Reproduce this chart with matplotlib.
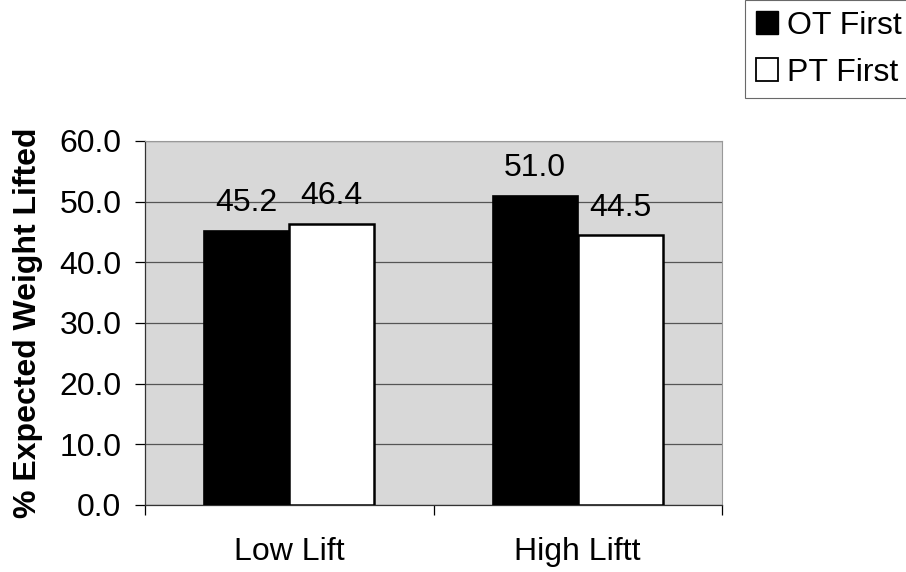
import matplotlib
matplotlib.use("Agg")
import matplotlib.pyplot as plt
import numpy as np
from matplotlib.patches import Patch

categories = ["Low Lift", "High Liftt"]
series_names = ["OT First", "PT First"]
ot_first = [45.2, 51.0]
pt_first = [46.4, 44.5]
yticks = [0, 10, 20, 30, 40, 50, 60]

plt.rcParams["font.family"] = ["Liberation Sans", "DejaVu Sans"]
FS = 23

fig = plt.figure(figsize=(9.06, 5.72), dpi=100)
ax = fig.add_axes([145 / 906, 67 / 572, 577 / 906, 364 / 572])
ax.set_facecolor("#d8d8d8")

x = np.arange(len(categories))
w = 0.295
b1 = ax.bar(x - w / 2, ot_first, w, color="black", edgecolor="black", linewidth=1.2, zorder=3)
b2 = ax.bar(x + w / 2, pt_first, w, color="white", edgecolor="black", linewidth=1.8, zorder=3)

for bars, vals in ((b1, ot_first), (b2, pt_first)):
    for r, v in zip(bars, vals):
        ax.annotate(f"{v:.1f}", (r.get_x() + r.get_width() / 2, v),
                    xytext=(0, 14), textcoords="offset points",
                    ha="center", va="baseline", fontsize=FS, zorder=4)

ax.set_ylim(0, 60)
ax.set_xlim(-0.5, 1.5)
ax.set_yticks(yticks)
ax.set_yticklabels([f"{t:.1f}" for t in yticks], fontsize=FS)
ax.yaxis.grid(True, color="#555555", linewidth=0.9, zorder=0)
ax.tick_params(axis="y", length=7, width=0.9, pad=10)

ax.set_xticks([-0.5, 0.5, 1.5])
ax.set_xticklabels([])
ax.set_xticks(x, minor=True)
ax.set_xticklabels(categories, minor=True, fontsize=FS)
ax.tick_params(axis="x", which="major", length=7, width=0.9, direction="out")
ax.tick_params(axis="x", which="minor", length=0, pad=23)

for s in ("top", "right"):
    ax.spines[s].set_color("#999999")
    ax.spines[s].set_linewidth(0.8)
for s in ("left", "bottom"):
    ax.spines[s].set_color("#333333")
    ax.spines[s].set_linewidth(0.9)

ax.set_ylabel("% Expected Weight Lifted", fontsize=FS, fontweight="bold", labelpad=12)

handles = [Patch(facecolor="black", edgecolor="black"),
           Patch(facecolor="white", edgecolor="black", linewidth=1.3)]
leg = fig.legend(handles, series_names, loc="upper left",
                 bbox_to_anchor=(745 / 906, 1.0), fontsize=FS,
                 frameon=True, fancybox=False, edgecolor="#444444",
                 handlelength=0.7, handleheight=0.7, handletextpad=0.3,
                 borderpad=0.33, labelspacing=0.54, borderaxespad=0.0)
leg.get_frame().set_linewidth(0.8)

fig.savefig("out.png", dpi=100, facecolor="white")
